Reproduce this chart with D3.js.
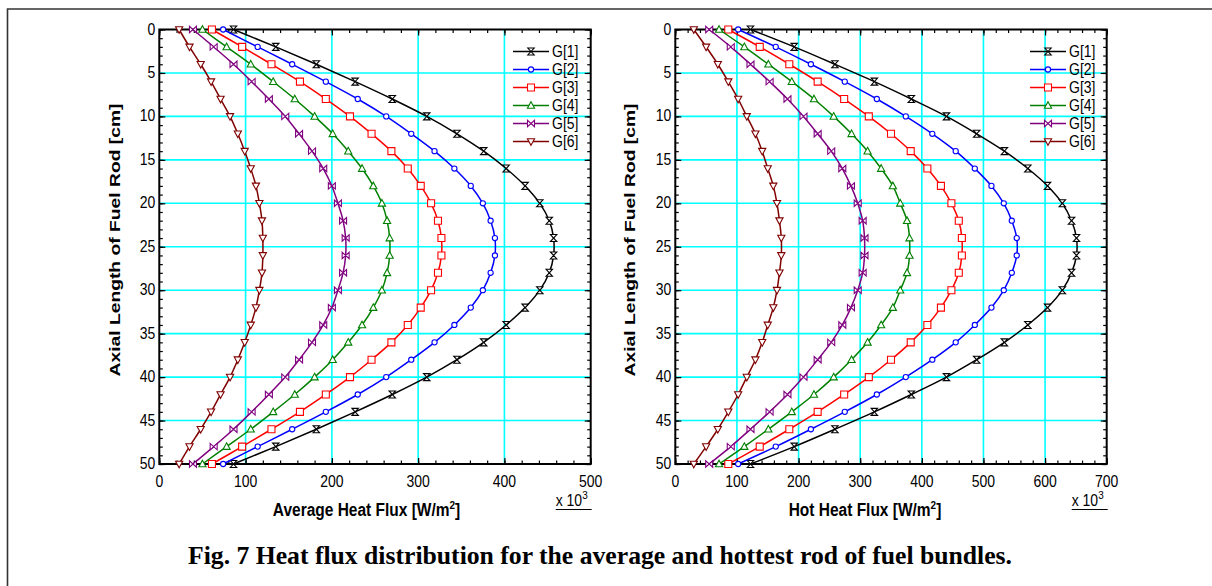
<!DOCTYPE html>
<html><head><meta charset="utf-8">
<script src="https://cdn.jsdelivr.net/npm/d3@7"></script>
<style>body{margin:0;background:#fff} svg{display:block}</style>
</head><body><svg id="c" width="1212" height="586"></svg>
<script>
// ---------- data ----------
const depth = [0,2,4,6,8,10,12,14,16,18,20,22,24,26,28,30,32,34,36,38,40,42,44,46,48,50];
const seriesNames = ["G[1]","G[2]","G[3]","G[4]","G[5]","G[6]"];

// Average heat flux (x 10^3 W/m2)
const avgG1 = [86,135,182,227,270,310,345,376,402,424,441,452,457,457,452,441,424,402,376,345,310,270,227,182,135,86];
const avgG2 = [74,114,154,193,230,263,292,319,342,361,375,384,389,389,384,375,361,342,319,292,263,230,193,154,114,74];
const avgG3 = [61,96,130,163,193,221,246,269,288,303,315,323,327,327,323,315,303,288,269,246,221,193,163,130,96,61];
const avgG4 = [50,78,106,132,157,180,201,219,235,248,258,264,267,267,264,258,248,235,219,201,180,157,132,106,78,50];
const avgG5 = [39,63,86,107,127,146,162,177,190,200,207,213,216,216,213,207,200,190,177,162,146,127,107,86,63,39];
const avgG6 = [23,35,48,60,71,82,91,99,106,112,116,119,120,120,119,116,112,106,99,91,82,71,60,48,35,23];

// Hot heat flux (x 10^3 W/m2)
const hotG1 = [122,193,259,323,383,440,489,534,572,604,628,643,651,651,643,628,604,572,534,489,440,383,323,259,193,122];
const hotG2 = [102,163,220,275,327,374,417,455,486,513,533,546,554,554,546,533,513,486,455,417,374,327,275,220,163,102];
const hotG3 = [86,137,185,231,274,314,350,382,409,431,448,460,465,465,460,448,431,409,382,350,314,274,231,185,137,86];
const hotG4 = [71,112,151,189,225,257,286,312,334,353,365,376,380,380,376,365,353,334,312,286,257,225,189,151,112,71];
const hotG5 = [55,90,122,153,182,208,231,253,271,285,296,304,307,307,304,296,285,271,253,231,208,182,153,122,90,55];
const hotG6 = [30,50,69,86,102,116,130,141,150,159,165,169,172,172,169,165,159,150,141,130,116,102,86,69,50,30];

const xTicksAvg = [0,100,200,300,400,500];
const xTicksHot = [0,100,200,300,400,500,600,700];
const yTicks = [0,5,10,15,20,25,30,35,40,45,50];

// ---------- styles ----------
const colors = ["#000000","#0000ff","#ff0000","#008000","#800080","#800000"];
const markerPaths = [
  "M-3.2,-3.5H3.2L-3.2,3.5H3.2Z",      // hourglass
  null,                                 // circle
  "M-3.5,-3.5H3.5V3.5H-3.5Z",          // square
  "M0,-3.8L3.6,2.8H-3.6Z",             // triangle up
  "M-3.5,-3.2V3.2L3.5,-3.2V3.2Z",      // bowtie
  "M0,3.8L3.6,-2.8H-3.6Z"              // triangle down
];
const SANS = "'Liberation Sans', Arial, sans-serif";
const SY = 1.18;

const svg = d3.select("#c");

// outer border
svg.append("path").attr("d","M7.5,600V9H1230").attr("fill","none").attr("stroke","#333").attr("stroke-width",1.6);

function htext(g, x, y, str, size, opts={}) {
  const t = g.append("text")
    .attr("transform", `translate(${x},${y}) scale(1,${opts.sy||SY})`)
    .attr("font-family", opts.family || SANS)
    .attr("font-size", size)
    .attr("font-weight", opts.bold ? "bold" : "normal")
    .attr("text-anchor", opts.anchor || "middle")
    .attr("fill", "#000");
  if (opts.baseline) t.attr("dominant-baseline", opts.baseline);
  t.text(str);
  return t;
}

function marker(g, i, x, y) {
  if (i === 1) {
    g.append("circle").attr("cx",x).attr("cy",y).attr("r",2.6)
      .attr("fill","#fff").attr("stroke",colors[i]).attr("stroke-width",1.1);
  } else {
    g.append("path").attr("d",markerPaths[i]).attr("transform",`translate(${x},${y})`)
      .attr("fill","#fff").attr("stroke",colors[i]).attr("stroke-width",1.1);
  }
}

function panel(cfg) {
  const g = svg.append("g");
  const x = d3.scaleLinear().domain([0, cfg.xmax]).range([cfg.x0, cfg.x1]);
  const y = d3.scaleLinear().domain([0, 50]).range([cfg.y0, cfg.y1]);

  // grid
  const gx = cfg.xTicks.filter(v => v > 0 && v < cfg.xmax);
  g.selectAll(".gv").data(gx).enter().append("line")
    .attr("x1", d => x(d)).attr("x2", d => x(d)).attr("y1", cfg.y0).attr("y2", cfg.y1)
    .attr("stroke", "#00ffff").attr("stroke-width", 1.6);
  const gy = yTicks.filter(v => v > 0 && v < 50);
  g.selectAll(".gh").data(gy).enter().append("line")
    .attr("x1", cfg.x0).attr("x2", cfg.x1).attr("y1", d => y(d)).attr("y2", d => y(d))
    .attr("stroke", "#00ffff").attr("stroke-width", 1.6);

  // ticks (inward) via d3 axes
  const minorX = d3.range(0, cfg.xmax + 1, 20);
  const minorY = d3.range(0, 51, 1);
  const axes = [
    [d3.axisBottom(x).tickValues(minorX).tickSize(-3.5), `translate(0,${cfg.y1})`],
    [d3.axisBottom(x).tickValues(cfg.xTicks).tickSize(-6), `translate(0,${cfg.y1})`],
    [d3.axisTop(x).tickValues(minorX).tickSize(-3.5), `translate(0,${cfg.y0})`],
    [d3.axisTop(x).tickValues(cfg.xTicks).tickSize(-6), `translate(0,${cfg.y0})`],
    [d3.axisLeft(y).tickValues(minorY).tickSize(-3.5), `translate(${cfg.x0},0)`],
    [d3.axisLeft(y).tickValues(yTicks).tickSize(-6), `translate(${cfg.x0},0)`],
    [d3.axisRight(y).tickValues(minorY).tickSize(-3.5), `translate(${cfg.x1},0)`],
    [d3.axisRight(y).tickValues(yTicks).tickSize(-6), `translate(${cfg.x1},0)`]
  ];
  axes.forEach(([ax, tr]) => {
    const a = g.append("g").attr("transform", tr).call(ax.tickFormat(""));
    a.select(".domain").remove();
    a.selectAll("line").attr("stroke", "#000").attr("stroke-width", 1.2);
  });

  // frame
  g.append("rect").attr("x", cfg.x0).attr("y", cfg.y0)
    .attr("width", cfg.x1 - cfg.x0).attr("height", cfg.y1 - cfg.y0)
    .attr("fill", "none").attr("stroke", "#000").attr("stroke-width", 2);

  // tick labels
  cfg.xTicks.forEach(v => htext(g, x(v), cfg.y1 + 23, String(v), 14));
  yTicks.forEach(v => htext(g, cfg.x0 - 4, y(v) + 5, String(v), 14, {anchor: "end"}));

  // x 10^3
  const m = g.append("text").attr("transform", `translate(${cfg.x1 - 35},${cfg.y1 + 42}) scale(1,${SY})`)
    .attr("font-family", SANS).attr("font-size", 14);
  m.append("tspan").text("x 10");
  m.append("tspan").attr("font-size", 10).attr("dy", -6).text("3");
  g.append("line").attr("x1", cfg.x1 - 35).attr("x2", cfg.x1 + 1)
    .attr("y1", cfg.y1 + 45.5).attr("y2", cfg.y1 + 45.5).attr("stroke", "#000").attr("stroke-width", 1);

  // axis titles
  const xt = g.append("text").attr("transform", `translate(${cfg.titleX},${cfg.y1 + 52}) scale(1,${SY})`)
    .attr("font-family", SANS).attr("font-size", 15.5).attr("font-weight", "bold").attr("text-anchor", "middle");
  xt.append("tspan").text(cfg.title + " [W/m");
  xt.append("tspan").attr("font-size", 10).attr("dy", -6).text("2");
  xt.append("tspan").attr("dy", 6).text("]");

  g.append("text").attr("transform", `translate(${cfg.yTitleX},${240}) rotate(-90)`)
    .attr("font-family", SANS).attr("font-size", 15.5).attr("font-weight", "bold")
    .attr("text-anchor", "middle").attr("textLength", 273).attr("lengthAdjust", "spacingAndGlyphs")
    .text("Axial Length of Fuel Rod [cm]");

  // series
  const line = d3.line().x(d => x(d[1])).y(d => y(d[0])).curve(d3.curveCatmullRom.alpha(0.5));
  cfg.series.forEach((vals, i) => {
    const pts = depth.map((dd, k) => [dd, vals[k]]);
    g.append("path").attr("d", line(pts)).attr("fill", "none")
      .attr("stroke", colors[i]).attr("stroke-width", 1.5);
    const mg = g.append("g");
    pts.forEach(p => marker(mg, i, x(p[1]), y(p[0])));
  });

  // legend
  seriesNames.forEach((nm, i) => {
    const ly = 51.5 + i * 18;
    g.append("line").attr("x1", cfg.legX).attr("x2", cfg.legX + 36).attr("y1", ly).attr("y2", ly)
      .attr("stroke", colors[i]).attr("stroke-width", 1.5);
    marker(g, i, cfg.legX + 18, ly);
    htext(g, cfg.legX + 39, ly + 5, nm, 14, {anchor: "start"});
  });
}

panel({x0: 159.3, x1: 590.7, y0: 29.5, y1: 464, xmax: 500, xTicks: xTicksAvg,
  title: "Average Heat Flux", titleX: 366.5, yTitleX: 119.5, legX: 513,
  series: [avgG1, avgG2, avgG3, avgG4, avgG5, avgG6]});
panel({x0: 675.3, x1: 1106.7, y0: 29.5, y1: 464, xmax: 700, xTicks: xTicksHot,
  title: "Hot Heat Flux", titleX: 865, yTitleX: 635, legX: 1030,
  series: [hotG1, hotG2, hotG3, hotG4, hotG5, hotG6]});

// caption
svg.append("text").attr("transform", `translate(600,564) scale(1,1.15)`)
  .attr("font-family", "'Liberation Serif', 'Times New Roman', serif").attr("font-size", 22)
  .attr("font-weight", "bold").attr("text-anchor", "middle")
  .attr("textLength", 824).attr("lengthAdjust", "spacingAndGlyphs")
  .text("Fig. 7 Heat flux distribution for the average and hottest rod of fuel bundles.");
</script></body></html>
